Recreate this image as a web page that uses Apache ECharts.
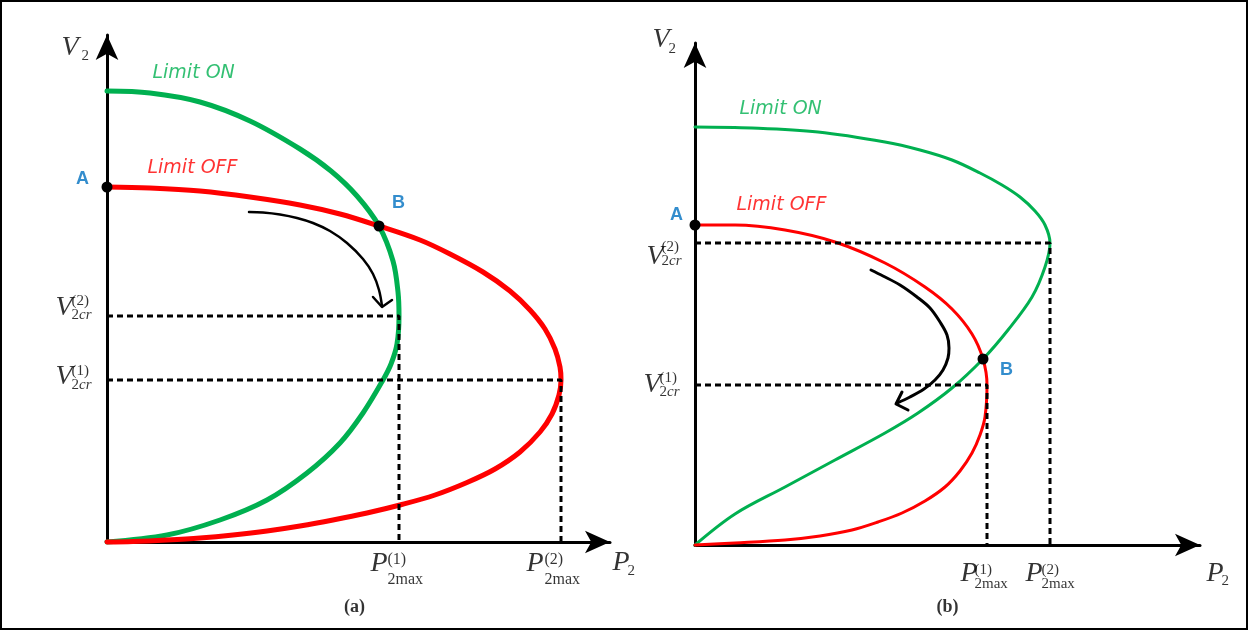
<!DOCTYPE html>
<html>
<head>
<meta charset="utf-8">
<script src="https://cdn.jsdelivr.net/npm/echarts@6/dist/echarts.min.js"></script>
<style>
  html, body { margin: 0; padding: 0; background: #fff; }
  #chart { width: 1249px; height: 631px; }
</style>
</head>
<body>
<div id="chart"></div>
<script>

// panel (a)
const leftOn = [[0,451],[43,449],[93,440],[143,421],[193,393],[224,371],[250,346],[272,316],[286,281],[291,250],[292,226],[290,198],[284,178],[276,162],[256,129],[233,99],[200,69],[160,42],[113,22],[60,7],[0,0]]
const leftOff = [[0,355],[43,354],[93,351],[143,345],[193,337],[233,328],[272,316],[313,302],[343,288],[376,270],[403,251],[423,232],[438,213],[448,193],[453,175],[454,162],[452,147],[445,128],[433,110],[413,90],[388,73],[360,59.5],[328,47],[293,37],[260,29],[226,22],[193,16],[160,11],[126,7],[93,4],[60,2],[26,0.5],[0,0]]
const leftNoses = [[292,226],[454,162]]   // (P2max(1), V2cr(2)), (P2max(2), V2cr(1))
const leftPoints = [[0,355],[272,316]]    // A, B
const leftArc = [[142,330],[156,329.5],[173,327.5],[190,324],[206,319],[223,311],[240,299],[256,283],[266,268],[272,252],[275,236]]
const leftHead = [[266,245],[275,235],[285,242]]

// panel (b)
const rightOn = [[0,418],[57,417],[123,413],[190,403],[225,395],[257,385],[285,372],[307,360],[325,348],[340,334],[350,320],[355,302],[350,278],[337,248],[313,215],[288,186],[257,157],[223,132],[190,112],[140,85],[90,58],[40,31],[0,0]]
const rightOff = [[0,320],[40,320],[90,315],[140,303],[190,282],[230,258],[257,236],[277,211],[288,186],[292,160],[290,128],[285,110],[277,92],[265,74],[250,58],[230,44],[207,32],[183,23],[157,15],[125,9],[90,5],[40,2],[0,0]]
const rightNoses = [[355,302],[292,160]]  // (P2max(2), V2cr(2)), (P2max(1), V2cr(1))
const rightPoints = [[0,320],[288,186]]   // A, B
const rightArc = [[176,275],[188,269],[205,260],[222,248],[235,237],[245,223],[252,210],[254,197],[253,187],[248,175],[240,165],[229,156],[215,148],[202,142]]
const rightHead = [[207,153],[201,141],[213,135]]

// axis extents (plot units)
const leftMax = [503, 507]
const rightMax = [505, 502]

const GREEN = '#00B050'
const RED = '#FF0000'
const BLUE = '#0070C0'
const serif = '"Liberation Serif", "DejaVu Serif", serif'

const chart = echarts.init(document.getElementById('chart'))

function axis(gridIndex, max) {
  return {
    type: 'value',
    gridIndex,
    min: 0,
    max,
    axisLine: {
      show: true,
      onZero: false,
      symbol: ['none', 'arrow'],
      symbolSize: [17, 25],
      lineStyle: { color: '#000', width: 3 }
    },
    axisTick: { show: false },
    axisLabel: { show: false },
    splitLine: { show: false }
  }
}

function curve(idx, data, color, width, smooth) {
  return {
    type: 'line', xAxisIndex: idx, yAxisIndex: idx, data,
    smooth, showSymbol: false, symbol: 'none', clip: false,
    lineStyle: { color, width, cap: 'round', join: 'round' }, silent: true
  }
}

function dashed(idx, nose) {
  return {
    type: 'line', xAxisIndex: idx, yAxisIndex: idx,
    data: [[0, nose[1]], nose, [nose[0], 0]],
    showSymbol: false, symbol: 'none', clip: false, z: 3,
    lineStyle: { color: '#000', width: 3, type: [6, 4] }, silent: true
  }
}

const rich = {
  m: { fontFamily: serif, fontStyle: 'italic', fontSize: 28, color: '#000' },
  u: { fontFamily: serif, fontSize: 15, color: '#000', lineHeight: 14 },
  i: { fontFamily: serif, fontSize: 15, fontStyle: 'italic', color: '#000', lineHeight: 14 },
  U: { fontFamily: serif, fontSize: 16, color: '#000', lineHeight: 20 }
}

function note(value, text, pos, extra) {
  return {
    value,
    label: Object.assign({
      show: true, formatter: text, position: pos,
      align: 'left', verticalAlign: 'middle', rich
    }, extra || {})
  }
}

const limitStyle = c => ({ fontFamily: '"DejaVu Sans", sans-serif', fontStyle: 'italic', fontSize: 19, color: c })
const ptStyle = { fontFamily: '"Liberation Sans", sans-serif', fontWeight: 'bold', fontSize: 18, color: BLUE, align: 'center' }
const capStyle = { fontFamily: serif, fontWeight: 'bold', fontSize: 18, color: '#000', align: 'center' }

const leftNotes = [
  note([0, leftMax[1]], '{m|V}', [-45, 13]),
  note([0, leftMax[1]], '{u|2}', [-25, 22]),
  note([leftMax[0], 0], '{m|P}', [3, 21]),
  note([leftMax[0], 0], '{u|2}', [18, 30]),
  note([0, leftNoses[0][1]], '{m|V}', [-51, -8]),
  note([0, leftNoses[0][1]], '{u|(2)}\n{u|2}{i|cr}', [-35, -7]),
  note([0, leftNoses[1][1]], '{m|V}', [-51, -3]),
  note([0, leftNoses[1][1]], '{u|(1)}\n{u|2}{i|cr}', [-35, -1]),
  note([leftNoses[0][0], 0], '{m|P}', [-28, 22]),
  note([leftNoses[0][0], 0], '{U|(1)}\n{U|2max}', [-11, 28]),
  note([leftNoses[1][0], 0], '{m|P}', [-34, 22]),
  note([leftNoses[1][0], 0], '{U|(2)}\n{U|2max}', [-16, 28]),
  note(leftOn[0], 'Limit ON', [46, -17], limitStyle(GREEN)),
  note(leftOff[0], 'Limit OFF', [41, -18], limitStyle(RED)),
  note(leftPoints[0], 'A', [-24, -7], ptStyle),
  note(leftPoints[1], 'B', [20, -22], ptStyle),
  note([248, 0], '(a)', [0, 66], capStyle)
]

const rightNotes = [
  note([0, rightMax[1]], '{m|V}', [-42, -3]),
  note([0, rightMax[1]], '{u|2}', [-26, 7]),
  note([rightMax[0], 0], '{m|P}', [7, 29]),
  note([rightMax[0], 0], '{u|2}', [22, 37]),
  note([0, rightNoses[0][1]], '{m|V}', [-48, 14]),
  note([0, rightNoses[0][1]], '{u|(2)}\n{u|2}{i|cr}', [-33, 12]),
  note([0, rightNoses[1][1]], '{m|V}', [-51, 0]),
  note([0, rightNoses[1][1]], '{u|(1)}\n{u|2}{i|cr}', [-35, 1]),
  note([rightNoses[1][0], 0], '{m|P}', [-26, 29]),
  note([rightNoses[1][0], 0], '{u|(1)}\n{u|2max}', [-12, 33]),
  note([rightNoses[0][0], 0], '{m|P}', [-24, 29]),
  note([rightNoses[0][0], 0], '{u|(2)}\n{u|2max}', [-8, 33]),
  note(rightOn[0], 'Limit ON', [45, -17], limitStyle(GREEN)),
  note(rightOff[0], 'Limit OFF', [42, -19], limitStyle(RED)),
  note(rightPoints[0], 'A', [-18, -9], ptStyle),
  note(rightPoints[1], 'B', [24, 12], ptStyle),
  note([253, 0], '(b)', [0, 63], capStyle)
]

function notes(idx, data) {
  return {
    type: 'scatter', xAxisIndex: idx, yAxisIndex: idx, data,
    symbolSize: 1, itemStyle: { color: 'rgba(0,0,0,0)' }, z: 6, silent: true
  }
}

function dots(idx, data) {
  return {
    type: 'scatter', xAxisIndex: idx, yAxisIndex: idx, data,
    symbolSize: 11, itemStyle: { color: '#000', opacity: 1 }, z: 5, silent: true
  }
}

const option = {
  animation: false,
  grid: [
    { left: 107, top: 35, width: leftMax[0], height: leftMax[1] },
    { left: 695, top: 43, width: rightMax[0], height: rightMax[1] }
  ],
  xAxis: [axis(0, leftMax[0]), axis(1, rightMax[0])],
  yAxis: [axis(0, leftMax[1]), axis(1, rightMax[1])],
  graphic: [{
    type: 'rect',
    shape: { x: 1, y: 1, width: 1246, height: 628 },
    style: { fill: 'none', stroke: '#000', lineWidth: 2 }
  }],
  series: [
    curve(0, leftOn, GREEN, 5, 0.35),
    curve(0, leftOff, RED, 5, 0.35),
    dashed(0, leftNoses[0]),
    dashed(0, leftNoses[1]),
    curve(0, leftArc, '#000', 2.5, 0.35),
    curve(0, leftHead, '#000', 2.5, false),
    dots(0, leftPoints),
    notes(0, leftNotes),

    curve(1, rightOn, GREEN, 3, 0.35),
    curve(1, rightOff, RED, 3, 0.35),
    dashed(1, rightNoses[0]),
    dashed(1, rightNoses[1]),
    curve(1, rightArc, '#000', 3, 0.35),
    curve(1, rightHead, '#000', 3, false),
    dots(1, rightPoints),
    notes(1, rightNotes)
  ]
}

chart.setOption(option)
</script>
</body>
</html>
